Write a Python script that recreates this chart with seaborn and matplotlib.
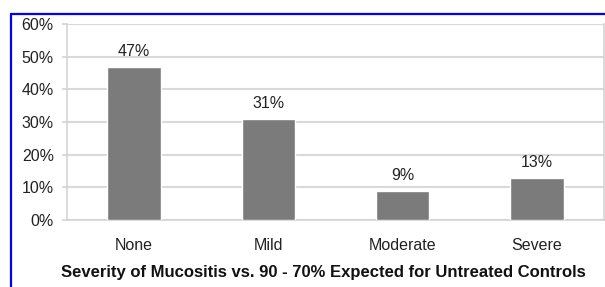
import pandas as pd
import matplotlib.pyplot as plt
import seaborn as sns
from matplotlib.lines import Line2D

# Data
categories = ['None', 'Mild', 'Moderate', 'Severe']
percent = [47, 31, 9, 13]
yticks = [0, 10, 20, 30, 40, 50, 60]

df = pd.DataFrame({'severity': categories, 'pct': percent})

sns.set_style('white')
plt.rcParams['font.family'] = ['Liberation Sans', 'DejaVu Sans']

fig = plt.figure(figsize=(6.05, 2.87), dpi=100)
ax = fig.add_axes([0.111, 0.233, 0.887, 0.683])

sns.barplot(data=df, x='severity', y='pct', color='#7b7b7b', width=0.4,
            saturation=1, ax=ax, zorder=3)

# Value labels above the bars
for i, v in enumerate(percent):
    ax.text(i, v + 2.3, f'{v}%', ha='center', va='bottom', fontsize=11.5, color='#222222')

ax.set_ylim(0, 60)
ax.set_xlim(-0.5, 3.5)
ax.set_yticks(yticks)
ax.set_yticklabels([f'{t}%' for t in yticks], fontsize=11.5, color='#222222')
ax.tick_params(axis='x', labelsize=11.5, colors='#222222', length=0, pad=13)
ax.tick_params(axis='y', length=3.6, width=1.2, color='#d4d4d4', pad=6, left=True)
ax.yaxis.grid(True, color='#d9d9d9', linewidth=1.5, zorder=0)
ax.set_axisbelow(True)

for side in ['left', 'right', 'bottom']:
    ax.spines[side].set_color('#d4d4d4')
    ax.spines[side].set_linewidth(1.2)
ax.spines['top'].set_visible(False)

ax.set_ylabel('')
ax.set_xlabel('Severity of Mucositis vs. 90 - 70% Expected for Untreated Controls',
              fontsize=12, fontweight='bold', color='#111111')
ax.xaxis.set_label_coords(0.477, -0.228)

# Blue frame around the panel (top and left edges visible)
fig.add_artist(Line2D([11.5 / 605, 1.0], [1 - 13.5 / 287, 1 - 13.5 / 287],
                      transform=fig.transFigure, color='#0000ff', linewidth=1.6))
fig.add_artist(Line2D([11.5 / 605, 11.5 / 605], [0.0, 1 - 13.5 / 287],
                      transform=fig.transFigure, color='#0000ff', linewidth=1.6))

fig.savefig('out.png', dpi=100)
